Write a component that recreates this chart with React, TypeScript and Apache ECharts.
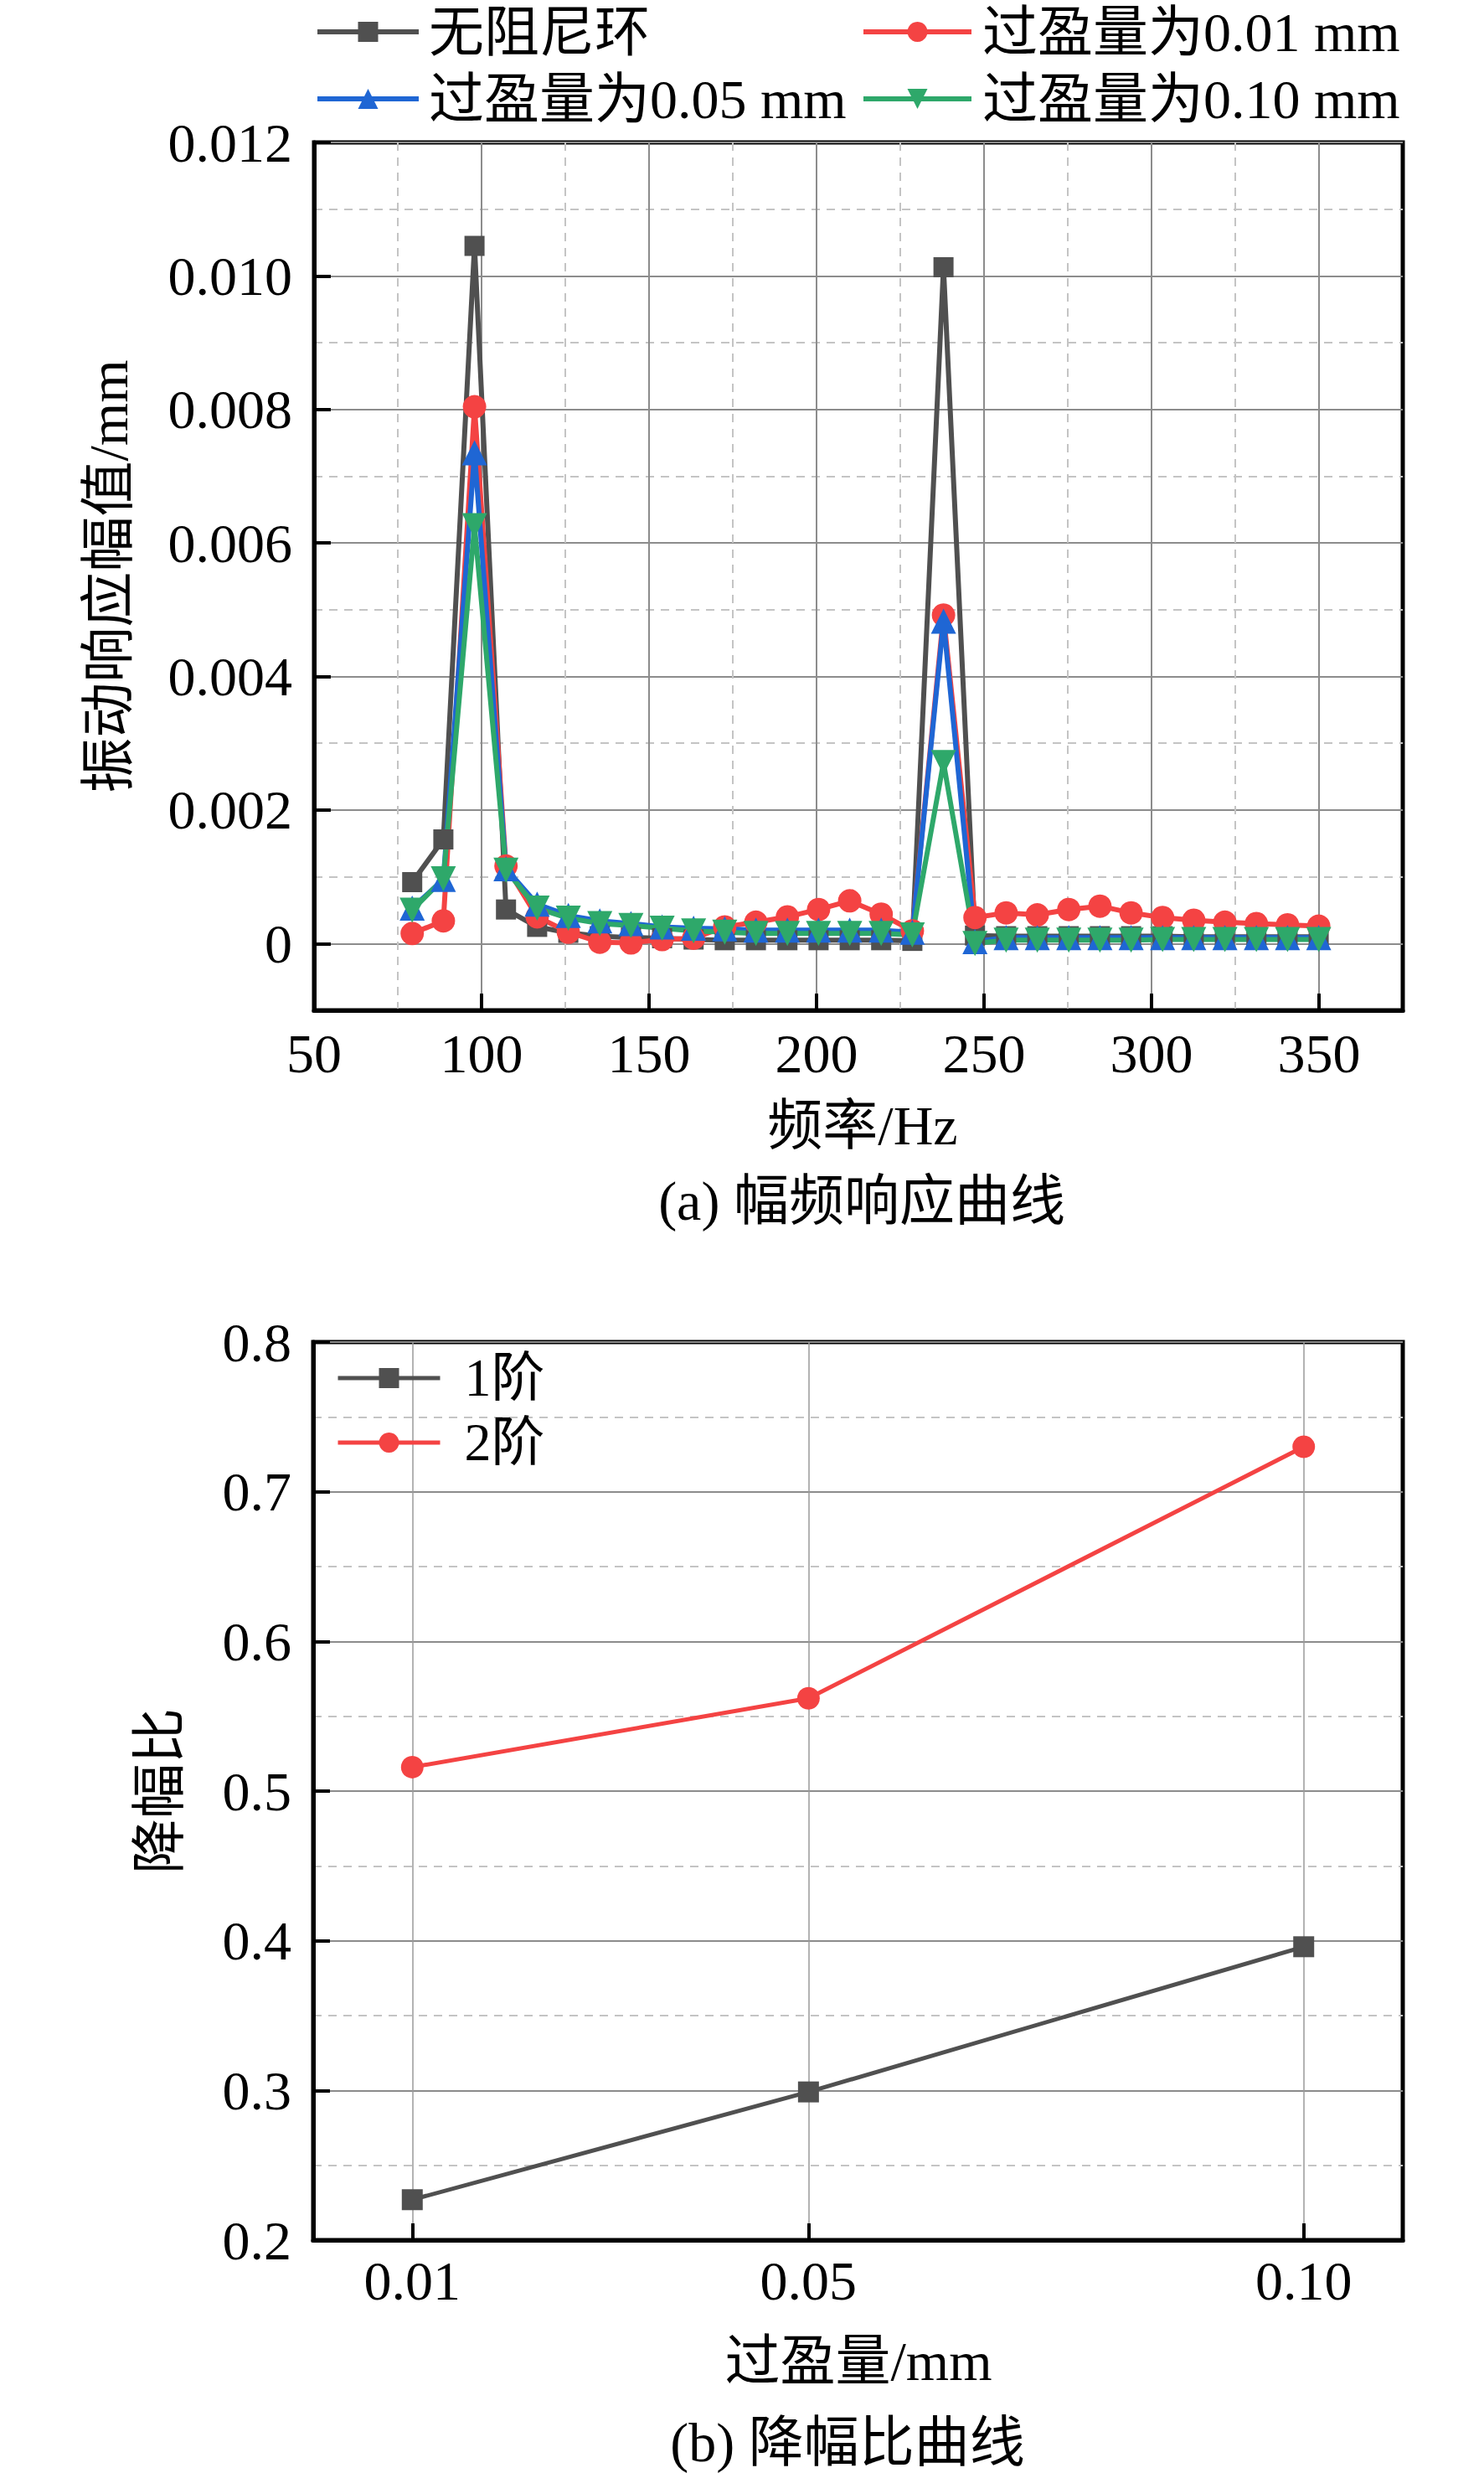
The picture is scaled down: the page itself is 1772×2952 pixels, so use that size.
import React, { useEffect, useRef } from "react";
import * as echarts from "echarts";

// ---------- Data: (a) amplitude-frequency response ----------
const freqHz = [79.3, 88.6, 97.9, 107.3, 116.6, 125.9, 135.3, 144.6, 153.9, 163.3, 172.6, 181.9, 191.3, 200.6, 209.9, 219.3, 228.6, 237.9, 247.3, 256.6, 265.9, 275.3, 284.6, 293.9, 303.3, 312.6, 321.9, 331.3, 340.6, 349.9];
const noDamper = [0.00092, 0.00156, 0.01045, 0.00051, 0.00025, 0.00016, 0.00011, 0.00009, 0.00008, 0.00006, 0.00005, 0.00005, 0.00005, 0.00005, 0.00005, 0.00005, 0.00004, 0.01013, 0.00012, 0.00011, 0.00011, 0.00011, 0.00011, 0.00011, 0.00011, 0.0001, 0.0001, 0.0001, 0.0001, 0.0001];
const fit001 = [0.00015, 0.00034, 0.00804, 0.00116, 0.0004, 0.00017, 0.00002, 0.00001, 0.00006, 0.00008, 0.00025, 0.00032, 0.0004, 0.00051, 0.00064, 0.00044, 0.00019, 0.00492, 0.00039, 0.00046, 0.00043, 0.00051, 0.00056, 0.00046, 0.00039, 0.00035, 0.00032, 0.0003, 0.00028, 0.00026];
const fit005 = [0.00053, 0.00096, 0.00735, 0.00112, 0.00059, 0.00042, 0.00034, 0.0003, 0.00025, 0.00023, 0.00022, 0.0002, 0.0002, 0.0002, 0.0002, 0.0002, 0.00017, 0.00483, 0.00003, 0.00009, 0.00009, 0.00009, 0.00009, 0.00009, 0.00009, 0.00009, 0.00009, 0.00009, 0.00009, 0.00009];
const fit010 = [0.0005, 0.00097, 0.00626, 0.0011, 0.00053, 0.00038, 0.0003, 0.00027, 0.00023, 0.00019, 0.00017, 0.00015, 0.00015, 0.00015, 0.00015, 0.00015, 0.00013, 0.00271, 0.0, 0.00005, 0.00005, 0.00005, 0.00005, 0.00005, 0.00006, 0.00006, 0.00006, 0.00006, 0.00006, 0.00006];
const seriesNamesA = ["无阻尼环", "过盈量为0.01 mm", "过盈量为0.05 mm", "过盈量为0.10 mm"];
const xTicksA = [50, 100, 150, 200, 250, 300, 350];
const xMinorA = [75, 125, 175, 225, 275, 325];
const yTicksA = [0, 0.002, 0.004, 0.006, 0.008, 0.01, 0.012];
const yMinorA = [0.001, 0.003, 0.005, 0.007, 0.009, 0.011];

// ---------- Data: (b) amplitude reduction ratio ----------
const interference = [0.01, 0.05, 0.1];
const order1 = [0.227, 0.299, 0.396];
const order2 = [0.516, 0.562, 0.73];
const seriesNamesB = ["1阶", "2阶"];
const xTicksB = [0.01, 0.05, 0.1];

const FONT = "'Liberation Serif', 'Noto Sans CJK SC', serif";
const GRAY = "#505050";
const RED = "#f44343";
const BLUE = "#1f66d4";
const GREEN = "#2ea86a";
const MAJOR = { color: "#8c8c8c", width: 2 };
const MINOR = { color: "#c4c4c4", width: 2, type: [10, 8] as any };

function pairs(xs: number[], ys: number[]) {
  return xs.map((x, i) => [x, ys[i]]);
}

export default function App() {
  const ref = useRef<HTMLDivElement>(null);
  useEffect(() => {
    if (!ref.current) return;
    const chart = echarts.init(ref.current, undefined, { renderer: "svg" });
    const txt = { fontFamily: FONT, fontSize: 66, color: "#000" };
    const axisLine = { show: true, onZero: false, lineStyle: { color: "#000", width: 5 } };
    const axisTick = { show: true, inside: true, length: 20, lineStyle: { color: "#000", width: 4 } };

    const lineA = (name: string, data: number[], color: string, symbol: string, size: number, rotate = 0) => ({
      name,
      type: "line",
      xAxisIndex: 0,
      yAxisIndex: 0,
      data: pairs(freqHz, data),
      symbol,
      symbolSize: size,
      symbolRotate: rotate,
      showAllSymbol: true,
      lineStyle: { color, width: 6 },
      itemStyle: { color },
    });
    const lineB = (name: string, data: number[], color: string, symbol: string, size: number) => ({
      name,
      type: "line",
      xAxisIndex: 2,
      yAxisIndex: 2,
      data: pairs(interference, data),
      symbol,
      symbolSize: size,
      lineStyle: { color, width: 5 },
      itemStyle: { color },
    });

    const legend = (name: string, left: number, top: number, itemWidth: number, itemHeight: number, padLeft: number, fontSize: number, lw: number) => ({
      data: [name],
      left,
      top,
      itemWidth,
      itemHeight,
      padding: 0,
      selectedMode: false,
      lineStyle: { width: lw },
      textStyle: { fontFamily: FONT, fontSize, color: "#000", padding: [0, 0, 0, padLeft] },
    });

    const gText = (text: string, x: number, y: number, rotation = 0) => ({
      type: "text",
      x,
      y,
      rotation,
      style: { text, fontFamily: FONT, fontSize: 66, fill: "#000", align: "center", verticalAlign: "middle" },
    });

    chart.setOption({
      animation: false,
      backgroundColor: "#fff",
      grid: [
        { left: 375, top: 170, width: 1300, height: 1036, show: true, borderColor: "#000", borderWidth: 5, containLabel: false },
        { left: 374, top: 1602, width: 1301, height: 1072, show: true, borderColor: "#000", borderWidth: 5, containLabel: false },
      ],
      legend: [
        legend(seriesNamesA[0], 376, 5, 121, 30, 7, 66, 6),
        legend(seriesNamesA[1], 1028, 5, 129, 30, 8, 66, 6),
        legend(seriesNamesA[2], 376, 85, 121, 30, 7, 66, 6),
        legend(seriesNamesA[3], 1028, 85, 129, 30, 8, 66, 6),
        legend(seriesNamesB[0], 401, 1613, 122, 30, 24, 64, 5),
        legend(seriesNamesB[1], 401, 1690, 122, 30, 24, 64, 5),
      ],
      xAxis: [
        {
          gridIndex: 0, type: "value", min: 50, max: 375, position: "bottom",
          axisLine, axisTick: { ...axisTick, customValues: xTicksA },
          axisLabel: { ...txt, margin: 18, customValues: xTicksA, formatter: (v: number) => String(v) },
          splitLine: { show: true, lineStyle: MAJOR },
        },
        {
          gridIndex: 0, type: "value", min: 50, max: 375, position: "bottom",
          axisLine: { show: false, onZero: false }, axisTick: { show: false, customValues: xMinorA },
          axisLabel: { show: false },
          splitLine: { show: true, lineStyle: MINOR },
        },
        {
          gridIndex: 1, type: "value", min: 0, max: 0.11, position: "bottom",
          axisLine, axisTick: { ...axisTick, customValues: xTicksB },
          axisLabel: { ...txt, margin: 15, customValues: xTicksB, formatter: (v: number) => v.toFixed(2) },
          splitLine: { show: true, lineStyle: { color: "#9a9a9a", width: 1.5 } },
        },
      ],
      yAxis: [
        {
          gridIndex: 0, type: "value", min: -0.001, max: 0.012, position: "left",
          axisLine, axisTick: { ...axisTick, customValues: yTicksA },
          axisLabel: { ...txt, margin: 26, customValues: yTicksA, formatter: (v: number) => (v === 0 ? "0" : v.toFixed(3)) },
          splitLine: { show: true, lineStyle: MAJOR },
        },
        {
          gridIndex: 0, type: "value", min: -0.001, max: 0.012, position: "left",
          axisLine: { show: false, onZero: false }, axisTick: { show: false, customValues: yMinorA },
          axisLabel: { show: false },
          splitLine: { show: true, lineStyle: MINOR },
        },
        {
          gridIndex: 1, type: "value", min: 0.2, max: 0.8, interval: 0.1, position: "left",
          axisLine, axisTick,
          axisLabel: { ...txt, margin: 26, formatter: (v: number) => v.toFixed(1) },
          splitLine: { show: true, lineStyle: MAJOR },
          minorTick: { show: false, splitNumber: 2 },
          minorSplitLine: { show: true, lineStyle: MINOR },
        },
      ],
      series: [
        lineA(seriesNamesA[0], noDamper, GRAY, "rect", 24),
        lineA(seriesNamesA[1], fit001, RED, "circle", 28),
        lineA(seriesNamesA[2], fit005, BLUE, "triangle", 30),
        lineA(seriesNamesA[3], fit010, GREEN, "triangle", 30, 180),
        lineB(seriesNamesB[0], order1, GRAY, "rect", 25),
        lineB(seriesNamesB[1], order2, RED, "circle", 27),
      ],
      graphic: [
        gText("振动响应幅值/mm", 129, 688, Math.PI / 2),
        gText("频率/Hz", 1030, 1343),
        gText("(a) 幅频响应曲线", 1029, 1433),
        gText("降幅比", 190, 2138, Math.PI / 2),
        gText("过盈量/mm", 1025, 2818),
        gText("(b) 降幅比曲线", 1012, 2915),
      ],
    });
    return () => chart.dispose();
  }, []);
  return <div ref={ref} style={{ position: "absolute", left: 0, top: 0, width: 1772, height: 2952 }} />;
}
